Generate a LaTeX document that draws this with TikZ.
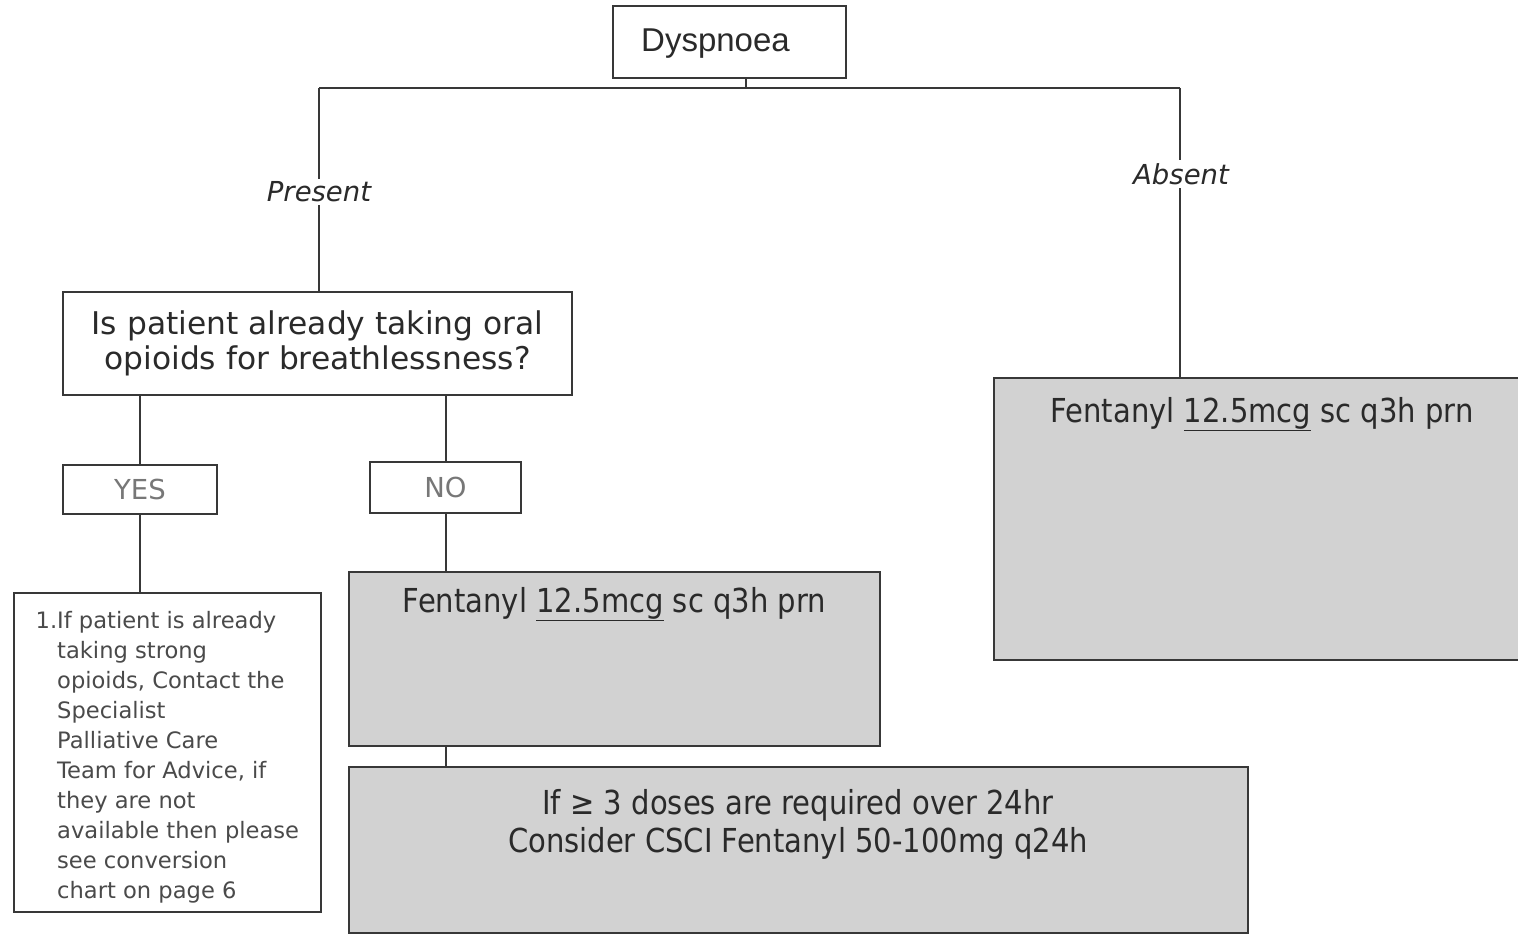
\documentclass[tikz,border=0pt]{standalone}
\usepackage{fontspec}
\setmainfont{DejaVu Sans}
\newfontfamily\dv{DejaVu Sans}
\newfontfamily\dvc[FakeStretch=0.88]{DejaVu Sans}
\newfontfamily\lib{Liberation Sans}
\definecolor{ln}{HTML}{383838}
\definecolor{tx}{HTML}{2A2A2A}
\definecolor{lt}{HTML}{777777}
\definecolor{gf}{HTML}{D2D2D2}
\tikzset{
  box/.style={draw=ln, line width=1.7pt, rectangle, inner sep=0pt, outer sep=0pt},
  greybox/.style={box, fill=gf},
  conn/.style={draw=ln, line width=1.7pt},
  branch/.style={fill=white, inner sep=3pt, text=tx, font=\dv\itshape\fontsize{27.5}{32}\selectfont},
  ftext/.style={text=tx, inner sep=0pt, font=\dvc\fontsize{33}{38}\selectfont},
  yn/.style={box, text=lt, font=\dv\fontsize{27.5}{30}\selectfont}
}
\newcommand{\ul}[1]{\underline{#1}}
\begin{document}
\begin{tikzpicture}[x=1pt,y=-1pt]
\useasboundingbox (0,0) rectangle (1518,936);
\fill[white] (0,0) rectangle (1518,936);
% boxes
\node[box, minimum width=233pt, minimum height=72pt] (dys) at (729.5,42) {};
\node[text=tx, inner sep=0pt, font=\lib\fontsize{33}{38}\selectfont] (dyst) at (715.5,44) {Dyspnoea};
\node[box, minimum width=509pt, minimum height=103pt, text=tx, align=center, font=\dv\fontsize{31.3}{35}\selectfont] (q) at (317.5,343.5) {Is patient already taking oral\\opioids for breathlessness?};
\node[yn, minimum width=154pt, minimum height=49pt] (yes) at (140,489.5) {YES};
\node[yn, minimum width=151pt, minimum height=51pt] (no) at (445.5,487.5) {NO};
\node[box, minimum width=307pt, minimum height=319pt] (adv) at (167.5,752.5) {};
\node[anchor=north west, inner sep=0pt, text=tx!85, align=left, font=\dv\fontsize{22.6}{30}\selectfont] (advt) at (57,611) {\llap{1.}If patient is already\\taking strong\\opioids, Contact the\\Specialist\\Palliative Care\\Team for Advice, if\\they are not\\available then please\\see conversion\\chart on page 6};
\node[greybox, minimum width=531pt, minimum height=174pt] (f1) at (614.5,659) {};
\node[ftext] (f1t) at (614.5,604) {Fentanyl \ul{12.5mcg} sc q3h prn};
\node[greybox, minimum width=899pt, minimum height=166pt] (bot) at (798.5,850) {};
\node[ftext, align=center] (bott) at (798,824) {If ≥ 3 doses are required over 24hr\\Consider CSCI Fentanyl 50-100mg q24h};
\node[greybox, line width=2pt, minimum width=536pt, minimum height=282pt] (f2) at (1262,519) {};
\node[ftext] (f2t) at (1262,414) {Fentanyl \ul{12.5mcg} sc q3h prn};
% connectors
\coordinate (jt) at (746,88);
\coordinate (jl) at (319,88);
\coordinate (jr) at (1180,88);
\draw[conn] (dys.south -| jt) -- (jt);
\draw[conn] (jl) -- (jr);
\draw[conn] (jl) -- (q.north -| jl);
\draw[conn] (jr) -- (f2.north -| jr);
\node[branch] (pres) at (319,192) {Present};
\node[branch] (abs) at (1181,174) {Absent};
\draw[conn] (q.south -| yes.north) -- (yes.north);
\draw[conn] (q.south -| 446,0) -- (no.north -| 446,0);
\draw[conn] (yes.south) -- (adv.north -| yes.south);
\draw[conn] (no.south -| 446,0) -- (f1.north -| 446,0);
\draw[conn] (f1.south -| 446,0) -- (bot.north -| 446,0);
\end{tikzpicture}
\end{document}
